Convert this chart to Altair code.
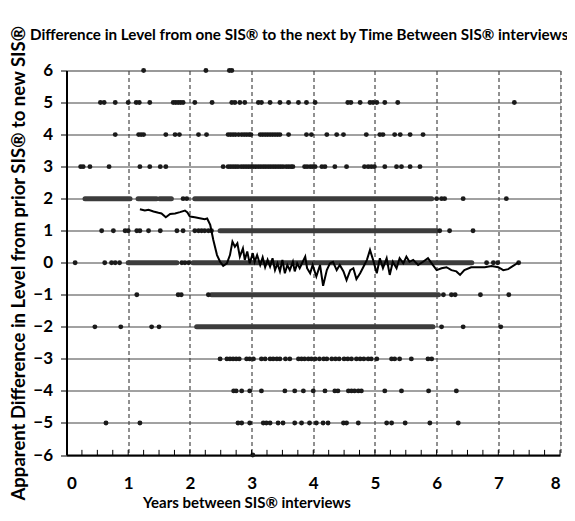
import altair as alt
import pandas as pd

# ---------------- data ----------------
levels = [6, 5, 4, 3, 2, 1, 0, -1, -2, -3, -4, -5, -6]

level_6 = [1.25, 2.26, 2.64, 2.68]
level_5 = [0.55, 0.61, 0.79, 1.00, 1.13, 1.18, 1.35, 1.73, 1.77, 1.81, 1.85, 1.89, 2.08, 2.36,
           2.68, 2.73, 2.81, 2.89, 3.11, 3.16, 3.30, 3.46, 3.60, 3.76, 3.89, 4.03, 4.56, 4.61,
           4.76, 4.92, 4.97, 5.03, 5.16, 5.37, 7.26]
level_4 = [0.79, 1.17, 1.21, 1.25, 1.61, 1.76, 1.83, 2.14, 2.27, 2.62, 2.66, 2.70, 2.74, 2.79,
           2.84, 2.88, 2.92, 2.96, 2.99, 3.14, 3.18, 3.22, 3.26, 3.30, 3.34, 3.38, 3.42, 3.46,
           3.60, 3.89, 3.97, 4.22, 4.38, 4.49, 4.86, 5.08, 5.13, 5.32, 5.41, 5.57, 5.78]
level_3 = [0.23, 0.27, 0.38, 0.69, 1.19, 1.35, 1.52, 1.61, 2.54, 2.62, 2.66, 2.70, 2.74, 2.78,
           2.83, 2.87, 2.91, 2.95, 2.99, 3.03, 3.07, 3.11, 3.15, 3.19, 3.23, 3.27, 3.31, 3.35,
           3.39, 3.43, 3.47, 3.51, 3.56, 3.60, 3.64, 3.67, 3.86, 3.90, 3.95, 3.99, 4.03, 4.14,
           4.19, 4.35, 4.54, 4.83, 4.89, 4.94, 4.99, 5.16, 5.35, 5.43, 5.57, 5.73]
level_2 = [1.89, 1.95, 6.00, 6.08, 6.13, 6.43, 7.13]
level_1 = [0.57, 0.76, 0.95, 1.00, 1.14, 1.19, 1.33, 1.52, 1.79, 1.89, 2.08, 2.14, 2.19, 2.24,
           2.30, 2.35, 6.05, 6.21, 6.59]
level_0 = [0.14, 0.62, 0.73, 0.79, 0.86, 1.87, 1.92, 1.98, 6.81, 6.92, 6.99, 7.33]
level_m1 = [1.14, 1.81, 1.86, 2.30, 6.11, 6.24, 6.30, 6.71, 7.17]
level_m2 = [0.46, 0.88, 1.38, 1.50, 6.08, 6.43, 7.04]
level_m3 = [2.49, 2.60, 2.65, 2.70, 2.75, 2.80, 2.92, 2.97, 3.03, 3.16, 3.22, 3.30, 3.35, 3.41,
            3.46, 3.55, 3.62, 3.76, 3.81, 3.86, 3.92, 3.97, 4.03, 4.10, 4.17, 4.22, 4.30, 4.36,
            4.42, 4.50, 4.56, 4.62, 4.70, 4.76, 4.82, 4.89, 4.94, 5.03, 5.27, 5.32, 5.40, 5.59,
            5.86, 5.92]
level_m4 = [2.71, 2.75, 2.84, 2.97, 3.16, 3.54, 3.70, 3.84, 4.00, 4.19, 4.35, 4.40, 4.57, 4.62,
            4.67, 4.73, 4.78, 5.16, 5.43, 5.87, 6.32]
level_m5 = [0.64, 1.19, 2.78, 2.84, 2.97, 3.19, 3.24, 3.30, 3.43, 3.51, 3.70, 3.81, 3.94, 4.05,
            4.16, 4.24, 4.49, 4.54, 4.73, 5.19, 5.27, 5.49, 5.89, 6.35]
level_m6 = [3.02]

# dense runs of overlapping points: level, first year, last year
dense_level = [2, 2, 2, 2, 1, 0, 0, -1, -2]
dense_start = [0.30, 1.16, 1.51, 2.08, 2.49, 1.00, 2.05, 2.35, 2.11]
dense_end = [1.03, 1.46, 1.70, 5.92, 6.00, 1.79, 6.57, 6.03, 5.94]

# running mean line
line_years = [1.19, 1.27, 1.33, 1.41, 1.49, 1.54, 1.61, 1.68, 1.76, 1.84, 1.92, 1.96, 2.00, 2.08,
              2.16, 2.24, 2.28, 2.33, 2.38, 2.44, 2.49, 2.54, 2.60, 2.65, 2.69, 2.73, 2.77, 2.81,
              2.86, 2.89, 2.93, 2.97, 3.02, 3.05, 3.09, 3.14, 3.18, 3.22, 3.26, 3.30, 3.34, 3.38,
              3.42, 3.46, 3.50, 3.54, 3.58, 3.62, 3.67, 3.70, 3.74, 3.78, 3.83, 3.87, 3.90, 3.95,
              3.99, 4.05, 4.11, 4.16, 4.22, 4.27, 4.32, 4.38, 4.43, 4.49, 4.54, 4.60, 4.65, 4.70,
              4.76, 4.81, 4.87, 4.92, 4.97, 5.03, 5.08, 5.13, 5.19, 5.24, 5.29, 5.35, 5.40, 5.46,
              5.51, 5.56, 5.62, 5.70, 5.78, 5.86, 5.92, 6.00, 6.08, 6.16, 6.24, 6.32, 6.38, 6.45,
              6.56, 6.67, 6.78, 6.89, 7.00, 7.08, 7.16, 7.24, 7.32]
line_values = [1.67, 1.63, 1.65, 1.60, 1.56, 1.54, 1.42, 1.52, 1.54, 1.58, 1.63, 1.57, 1.44, 1.42,
               1.39, 1.36, 1.38, 1.18, 0.71, 0.24, 0.03, -0.10, -0.02, 0.24, 0.66, 0.50, 0.61, 0.19,
               0.45, 0.09, 0.35, -0.02, 0.30, 0.03, 0.24, -0.07, 0.17, -0.14, 0.09, -0.12, 0.14, -0.23,
               -0.02, -0.27, 0.09, -0.33, -0.07, -0.23, 0.03, -0.27, -0.02, -0.17, 0.03, 0.19, -0.17, -0.33,
               -0.07, -0.43, -0.07, -0.72, -0.23, -0.02, 0.03, -0.23, -0.07, -0.27, -0.54, -0.23, -0.17, -0.51,
               -0.33, -0.14, 0.09, 0.40, 0.09, -0.33, 0.14, -0.17, 0.14, -0.38, 0.03, -0.17, 0.14, -0.02,
               0.19, 0.03, 0.09, -0.07, 0.03, 0.14, -0.02, -0.23, -0.17, -0.14, -0.23, -0.27, -0.38, -0.23,
               -0.14, -0.14, -0.14, -0.10, -0.14, -0.23, -0.20, -0.10, 0.00]

chart_title = ["Difference in Level from one SIS® to the next by Time Between SIS® interviews"]
x_title = "Years between SIS® interviews"
y_title = "Apparent Difference in Level from prior SIS® to new SIS®"
x_tick_labels = [0, 1, 2, 3, 4, 5, 6, 7, 8]
y_tick_labels = [-6, -5, -4, -3, -2, -1, 0, 1, 2, 3, 4, 5, 6]
minor_ticks = [0, 0.25, 0.5, 0.75, 1, 1.25, 1.5, 1.75, 2, 2.25, 2.5, 2.75, 3, 3.25, 3.5, 3.75,
               4, 4.25, 4.5, 4.75, 5, 5.25, 5.5, 5.75, 6, 6.25, 6.5, 6.75, 7, 7.25, 7.5, 7.75, 8]

# ---------------- tables ----------------
all_levels = [level_6, level_5, level_4, level_3, level_2, level_1, level_0,
              level_m1, level_m2, level_m3, level_m4, level_m5, level_m6]
rows = []
for lv, xv_list in zip(levels, all_levels):
    for xv in xv_list:
        rows.append({"x": xv, "y": lv})
dots_df = pd.DataFrame(rows)
dense_df = pd.DataFrame({"y": dense_level, "x": dense_start, "x2": dense_end})
line_df = pd.DataFrame({"x": line_years, "y": line_values})
ticks_df = pd.DataFrame({"x": minor_ticks, "y": [-6] * len(minor_ticks),
                         "y2": [-5.84] * len(minor_ticks)})
title_df = pd.DataFrame({"t": chart_title})

FONT = "Lato"
xs = alt.Scale(domain=[0, 8], nice=False, zero=False)
ys = alt.Scale(domain=[-6, 6], nice=False, zero=False)

x_axis = alt.Axis(
    values=x_tick_labels, title=x_title,
    grid=True, gridDash=[4, 3], gridColor="#222", gridWidth=1,
    domainColor="black", domainWidth=2, tickSize=0, ticks=False,
    labelFont=FONT, labelFontSize=17, labelFontWeight="bold", labelColor="black",
    labelPadding=20, titleFont=FONT, titleFontSize=15, titleFontWeight="bold",
    titleColor="black", titleAnchor="start", titleX=76, titleY=40,
    titleBaseline="top")
y_axis = alt.Axis(
    values=y_tick_labels, title=y_title,
    grid=True, gridColor="#444", gridWidth=1,
    domainColor="black", domainWidth=2, tickSize=6, tickColor="black",
    labelFont=FONT, labelFontSize=17, labelFontWeight="bold", labelColor="black",
    labelPadding=8, titleFont=FONT, titleFontSize=18.5, titleFontWeight="bold",
    titleColor="black", titleX=-38)

X = alt.X("x:Q", scale=xs, axis=x_axis, title=x_title)
Y = alt.Y("y:Q", scale=ys, axis=y_axis, title=y_title)

dense = alt.Chart(dense_df).mark_rule(strokeWidth=5, strokeCap="round", color="#3c3c3c").encode(
    x=X, x2="x2:Q", y=Y)

dots = alt.Chart(dots_df).mark_circle(size=24, color="#1a1a1a", opacity=1).encode(x=X, y=Y)

line = alt.Chart(line_df).mark_line(color="black", strokeWidth=2).encode(x=X, y=Y)

ticks = alt.Chart(ticks_df).mark_rule(color="black", strokeWidth=1).encode(
    x=X, y=Y, y2="y2:Q")

title = alt.Chart(title_df).mark_text(
    font=FONT, fontSize=15.2, fontWeight="bold", color="black",
    align="left", baseline="alphabetic").encode(
    text="t:N", x=alt.value(-36.5), y=alt.value(-30.5))

chart = alt.layer(dense, dots, line, ticks, title).properties(
    width=493.5,
    height=384.5,
    autosize=alt.AutoSizeParams(type="none"),
    padding={"left": 58.5, "top": 62.5, "right": 7, "bottom": 58},
).configure_view(stroke="black", strokeWidth=1.2).configure(background="white")

chart.save("out.html", embed_options={"renderer": "svg", "actions": False})
